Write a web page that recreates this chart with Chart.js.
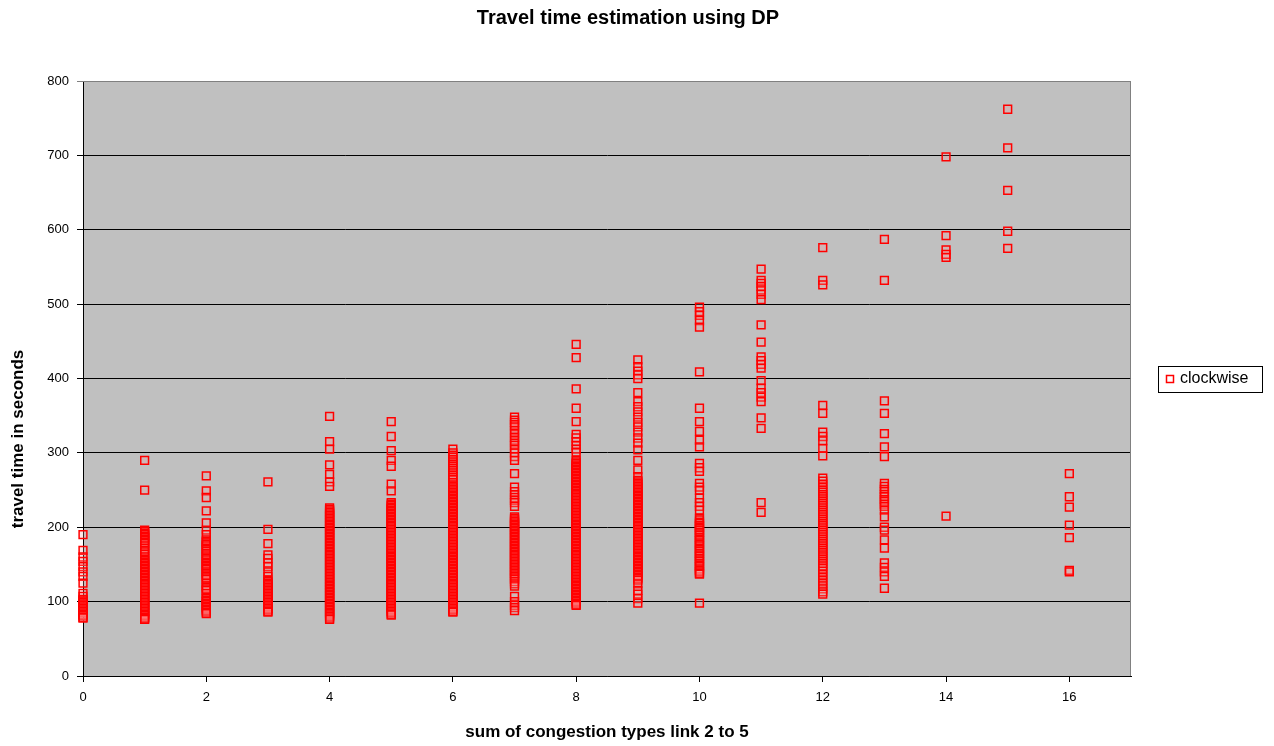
<!DOCTYPE html>
<html>
<head>
<meta charset="utf-8">
<script src="https://cdn.jsdelivr.net/npm/chart.js@4/dist/chart.umd.min.js"></script>
<style>
  html, body { margin: 0; padding: 0; background: #fff; }
  #wrap { width: 1274px; height: 746px; }
</style>
</head>
<body>
<div id="wrap"><canvas id="c" width="1274" height="746"></canvas></div>
<script>
// categories on the x axis (sum of congestion types)
const xCats = [0, 1, 2, 3, 4, 5, 6, 7, 8, 9, 10, 11, 12, 13, 14, 15, 16];
const xTicks = [0, 2, 4, 6, 8, 10, 12, 14, 16];
const yTicks = [0, 100, 200, 300, 400, 500, 600, 700, 800];

// travel times (s) read per column
const y0 = [190, 169, 160, 154, 147, 140, 134, 125, 111, 107, 103, 101, 99, 97, 95, 93, 91, 89, 87, 85, 83, 81, 79, 78];
const y1 = [290, 250, 196, 194, 192, 190, 188, 186, 184, 182, 180, 178, 175, 172, 169, 167, 164, 160, 157, 155, 153, 151, 149, 147, 145, 143, 141, 139, 137, 135, 133, 131, 129, 127, 125, 123, 121, 119, 117, 115, 113, 111, 109, 107, 105, 103, 101, 99, 97, 95, 93, 91, 89, 87, 85, 83, 81, 79, 77, 76];
const y2 = [269, 249, 240, 222, 206, 196, 190, 183, 181, 179, 177, 175, 172, 170, 168, 165, 163, 160, 158, 156, 153, 151, 149, 147, 145, 143, 140, 138, 136, 134, 132, 130, 125, 121, 119, 117, 115, 111, 106, 104, 102, 100, 98, 96, 94, 92, 90, 88, 86, 84];
const y3 = [261, 197, 178, 163, 158, 152, 147, 140, 134, 129, 127, 125, 123, 121, 119, 117, 115, 113, 111, 109, 107, 105, 103, 101, 99, 97, 95, 93, 91, 89, 87, 86];
const y4 = [349, 315, 305, 284, 271, 261, 255, 226, 224, 222, 220, 218, 216, 214, 212, 210, 208, 206, 204, 202, 200, 198, 196, 194, 192, 190, 188, 186, 184, 182, 180, 178, 176, 174, 172, 170, 168, 166, 164, 162, 160, 158, 156, 154, 152, 150, 148, 146, 144, 142, 140, 138, 136, 134, 132, 130, 128, 126, 124, 122, 120, 118, 116, 114, 112, 110, 108, 106, 104, 102, 100, 98, 96, 94, 92, 90, 88, 86, 84, 82, 80, 78, 76];
const y5 = [342, 322, 303, 290, 282, 258, 249, 233, 231, 229, 227, 225, 223, 221, 219, 217, 215, 213, 211, 209, 207, 205, 203, 201, 199, 197, 195, 193, 191, 189, 187, 185, 183, 181, 179, 177, 175, 173, 171, 169, 167, 165, 163, 161, 159, 157, 155, 153, 151, 149, 147, 145, 143, 141, 139, 137, 135, 133, 131, 129, 127, 125, 123, 121, 119, 117, 115, 113, 111, 109, 107, 105, 103, 101, 99, 97, 95, 93, 91, 89, 87, 85, 83, 82];
const y6 = [305, 300, 297, 294, 291, 288, 285, 282, 279, 276, 273, 270, 267, 264, 260, 257, 255, 253, 251, 249, 247, 245, 243, 241, 239, 237, 235, 233, 231, 229, 227, 225, 223, 221, 219, 217, 215, 213, 211, 209, 207, 205, 203, 201, 199, 197, 195, 193, 191, 189, 187, 185, 183, 181, 179, 177, 175, 173, 171, 169, 167, 165, 163, 161, 159, 157, 155, 153, 151, 149, 147, 145, 143, 141, 139, 137, 135, 133, 131, 129, 127, 125, 123, 121, 119, 117, 115, 113, 111, 109, 107, 105, 103, 101, 99, 97, 95, 93, 91, 89, 87, 86];
const y7 = [348, 344, 341, 338, 335, 330, 326, 321, 317, 313, 310, 305, 300, 295, 290, 272, 254, 248, 244, 240, 236, 233, 228, 214, 212, 210, 208, 206, 204, 202, 200, 198, 196, 194, 192, 190, 188, 186, 184, 182, 180, 178, 176, 174, 172, 170, 168, 166, 164, 162, 160, 158, 156, 154, 152, 150, 148, 146, 144, 142, 140, 138, 136, 134, 132, 130, 127, 124, 121, 107, 100, 95, 92, 88];
const y8 = [446, 428, 386, 360, 342, 325, 320, 315, 310, 305, 301, 290, 288, 286, 284, 282, 280, 278, 276, 274, 272, 270, 268, 266, 264, 262, 260, 258, 256, 254, 252, 250, 248, 246, 244, 242, 240, 238, 236, 234, 232, 230, 228, 226, 224, 222, 220, 218, 216, 214, 212, 210, 208, 206, 204, 202, 200, 198, 196, 194, 192, 190, 188, 186, 184, 182, 180, 178, 176, 174, 172, 170, 168, 166, 164, 162, 160, 158, 156, 154, 152, 150, 148, 146, 144, 142, 140, 138, 136, 134, 132, 130, 128, 126, 124, 122, 120, 118, 116, 114, 112, 110, 108, 106, 104, 102, 100, 98, 96, 95];
const y9 = [425, 416, 410, 405, 400, 381, 369, 362, 355, 348, 341, 335, 328, 320, 313, 304, 290, 277, 268, 263, 261, 259, 257, 255, 253, 251, 249, 247, 245, 243, 241, 239, 237, 235, 233, 231, 229, 227, 225, 223, 221, 219, 217, 215, 213, 211, 209, 207, 205, 203, 201, 199, 197, 195, 193, 191, 189, 187, 185, 183, 181, 179, 177, 175, 173, 171, 169, 167, 165, 163, 161, 159, 157, 155, 153, 151, 149, 147, 145, 143, 141, 139, 137, 135, 133, 131, 129, 124, 115, 110, 104, 98];
const y10 = [496, 490, 485, 478, 469, 409, 360, 342, 329, 317, 308, 286, 280, 275, 259, 254, 250, 239, 233, 228, 223, 212, 210, 207, 205, 202, 200, 198, 196, 193, 191, 189, 186, 184, 182, 179, 177, 175, 172, 170, 168, 165, 163, 161, 158, 156, 154, 151, 149, 147, 144, 142, 140, 138, 137, 98];
const y11 = [547, 532, 528, 524, 519, 513, 506, 472, 449, 429, 424, 419, 414, 397, 387, 381, 375, 369, 347, 333, 233, 220];
const y12 = [576, 532, 526, 364, 353, 328, 322, 316, 306, 296, 266, 262, 258, 254, 250, 247, 244, 241, 238, 235, 232, 229, 226, 223, 220, 217, 214, 211, 208, 205, 202, 199, 196, 193, 190, 187, 184, 181, 178, 175, 172, 169, 166, 163, 160, 157, 154, 151, 148, 145, 141, 137, 133, 129, 125, 121, 117, 113, 110];
const y13 = [587, 532, 370, 353, 326, 308, 295, 259, 255, 251, 248, 244, 241, 237, 235, 231, 228, 223, 214, 200, 196, 183, 172, 152, 146, 140, 134, 118];
const y14 = [698, 592, 573, 567, 563, 215];
const y15 = [762, 710, 653, 598, 575];
const y16 = [272, 241, 227, 203, 186, 142, 140];

const columns = [y0, y1, y2, y3, y4, y5, y6, y7, y8, y9, y10, y11, y12, y13, y14, y15, y16];
const points = [];
xCats.forEach((x, i) => columns[i].forEach((y) => points.push({ x, y })));

const FONT = '"Liberation Sans", Arial, sans-serif';
const TITLE = 'Travel time estimation using DP';
const Y_TITLE = 'travel time in seconds';

// gray plot area, frame, titles and boxed legend
const decor = {
  id: 'decor',
  beforeDraw(chart) {
    const { ctx, chartArea: a } = chart;
    ctx.save();
    ctx.fillStyle = '#c0c0c0';
    ctx.fillRect(a.left, a.top, a.right - a.left, a.bottom - a.top);
    ctx.restore();
  },
  afterDraw(chart) {
    const { ctx, chartArea: a } = chart;
    const ds = chart.data.datasets[0];
    ctx.save();
    // frame top / right
    ctx.strokeStyle = '#808080';
    ctx.lineWidth = 1;
    ctx.beginPath();
    ctx.moveTo(a.left, a.top + 0.5);
    ctx.lineTo(a.right - 0.5, a.top + 0.5);
    ctx.lineTo(a.right - 0.5, a.bottom);
    ctx.stroke();

    // main title
    ctx.fillStyle = '#000';
    ctx.textAlign = 'center';
    ctx.textBaseline = 'middle';
    ctx.font = 'bold 20px ' + FONT;
    ctx.fillText(TITLE, 628, 18);

    // y axis title
    ctx.save();
    ctx.translate(18, 439);
    ctx.rotate(-Math.PI / 2);
    ctx.font = 'bold 17px ' + FONT;
    ctx.fillText(Y_TITLE, 0, 0);
    ctx.restore();

    // legend
    ctx.fillStyle = '#fff';
    ctx.fillRect(1158, 366, 104, 26);
    ctx.strokeStyle = '#000';
    ctx.strokeRect(1158.5, 366.5, 104, 26);
    ctx.strokeStyle = ds.borderColor;
    ctx.lineWidth = 1.5;
    ctx.strokeRect(1166.5, 375.5, 7, 7);
    ctx.fillStyle = '#000';
    ctx.textAlign = 'left';
    ctx.font = '16px ' + FONT;
    ctx.fillText(ds.label, 1180, 379);
    ctx.restore();
  },
};

new Chart(document.getElementById('c'), {
  type: 'scatter',
  data: {
    datasets: [{
      label: 'clockwise',
      data: points,
      clip: false,
      pointStyle: 'rect',
      pointRadius: 5.5,
      pointBorderWidth: 1.5,
      borderColor: '#ff0000',
      backgroundColor: 'rgba(255,150,150,0.25)',
    }],
  },
  options: {
    responsive: false,
    animation: false,
    events: [],
    layout: { padding: { left: 0, right: 143, top: 81, bottom: 0 } },
    plugins: {
      legend: { display: false },
      tooltip: { enabled: false },
      title: { display: false },
    },
    scales: {
      x: {
        type: 'linear',
        min: 0,
        max: 17,
        afterBuildTicks: (s) => { s.ticks = xTicks.map((v) => ({ value: v })); },
        afterFit: (s) => { s.height = 70; },
        ticks: { color: '#000', font: { family: FONT, size: 13 }, padding: 8 },
        grid: { drawOnChartArea: false, color: '#000', tickLength: 6 },
        border: { color: '#000' },
        title: {
          display: true,
          text: 'sum of congestion types link 2 to 5',
          color: '#000',
          font: { family: FONT, size: 17, weight: 'bold' },
          padding: { top: 0, bottom: 3 },
        },
      },
      y: {
        min: 0,
        max: 800,
        afterBuildTicks: (s) => { s.ticks = yTicks.map((v) => ({ value: v })); },
        afterFit: (s) => { s.width = 83; },
        ticks: { color: '#000', font: { family: FONT, size: 13 }, padding: 8 },
        grid: {
          color: (c) => (c.tick && c.tick.value === 800 ? '#808080' : '#000'),
          tickLength: 6,
        },
        border: { color: '#000' },
      },
    },
  },
  plugins: [decor],
});
</script>
</body>
</html>
